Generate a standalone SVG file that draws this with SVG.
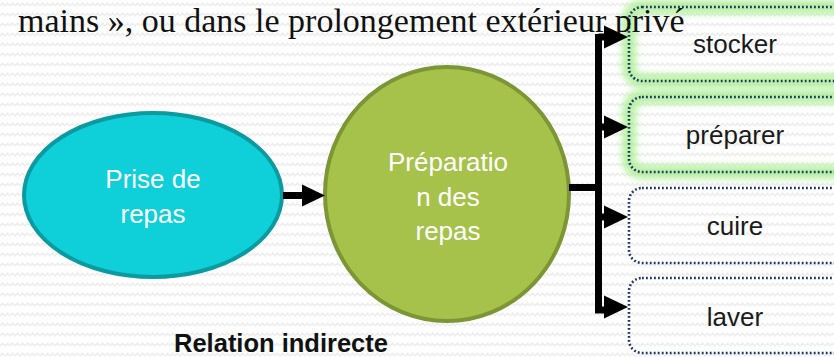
<svg xmlns="http://www.w3.org/2000/svg" width="834" height="357" viewBox="0 0 834 357">
<style>
.bg{fill:url(#wave)}
.lbl{font-family:"Liberation Sans",Arial,sans-serif;font-size:26px;text-anchor:middle}
.white{fill:#ffffff}
.dark{fill:#1a1a1a}
.box{fill:none;stroke:#1B3466;stroke-width:2.6;stroke-dasharray:1.8 2.2}
.glow{fill:none;stroke:#A8EE8E;stroke-width:14;opacity:0.8}
.conn{fill:none;stroke:#000;stroke-width:7}
.head{fill:#000}
</style>
<defs>
<pattern id="wave" width="10" height="10" patternUnits="userSpaceOnUse">
<rect width="10" height="10" fill="#ffffff"/>
<path d="M0 6 L2.5 3 L5 6 L7.5 3 L10 6" fill="none" stroke="#ededed" stroke-width="1.2"/>
</pattern>
<filter id="blur" x="-20%" y="-40%" width="140%" height="180%">
<feGaussianBlur stdDeviation="3.5"/>
</filter>
</defs>
<rect class="bg" x="0" y="0" width="834" height="357"/>

<g id="node-prise">
<ellipse cx="153" cy="195" rx="129" ry="82" fill="#0FCFD8" stroke="#0A9AA0" stroke-width="4"/>
<text class="lbl white" x="153" y="188">Prise de</text>
<text class="lbl white" x="153" y="223">repas</text>
</g>

<g id="node-preparation">
<ellipse cx="447" cy="194" rx="122" ry="127" fill="#A6C24B" stroke="#7C9535" stroke-width="4"/>
<text class="lbl white" x="448" y="171">Préparatio</text>
<text class="lbl white" x="448" y="206">n des</text>
<text class="lbl white" x="448" y="240">repas</text>
</g>

<g id="node-stocker">
<rect class="glow" x="629" y="7" width="260" height="74" rx="13" filter="url(#blur)"/>
<rect class="box" x="629" y="7" width="260" height="74" rx="13"/>
<text class="lbl dark" x="735" y="53">stocker</text>
</g>

<g id="node-preparer">
<rect class="glow" x="629" y="97" width="260" height="75" rx="13" filter="url(#blur)"/>
<rect class="box" x="629" y="97" width="260" height="75" rx="13"/>
<text class="lbl dark" x="735" y="144">préparer</text>
</g>

<g id="node-cuire">
<rect class="box" x="629" y="188" width="260" height="75" rx="13"/>
<text class="lbl dark" x="735" y="235">cuire</text>
</g>

<g id="node-laver">
<rect class="box" x="629" y="278" width="260" height="75" rx="13"/>
<text class="lbl dark" x="735" y="326">laver</text>
</g>

<text x="18" y="32" font-family="'Liberation Serif','Times New Roman',serif" font-size="34" fill="#111">mains », ou dans le prolongement extérieur privé</text>

<g id="connectors">
<line class="conn" x1="283" y1="195.5" x2="304" y2="195.5"/>
<polygon class="head" points="302,184.5 325,195.5 302,206.5"/>
<path class="conn" d="M569 187.5 H598.5"/>
<path class="conn" d="M598.5 34 V310 H606"/>
<line class="conn" x1="598.5" y1="37" x2="606" y2="37"/>
<line class="conn" x1="598.5" y1="127" x2="606" y2="127"/>
<line class="conn" x1="598.5" y1="217" x2="606" y2="217"/>
<polygon class="head" points="604,25.5 628,37 604,48.5"/>
<polygon class="head" points="604,115.5 628,127 604,138.5"/>
<polygon class="head" points="604,205.5 628,217 604,228.5"/>
<polygon class="head" points="604,295.5 628,307 604,318.5"/>
</g>

<text x="281" y="352" font-family="'Liberation Sans',Arial,sans-serif" font-size="25.5" font-weight="bold" text-anchor="middle" fill="#111">Relation indirecte</text>
</svg>
